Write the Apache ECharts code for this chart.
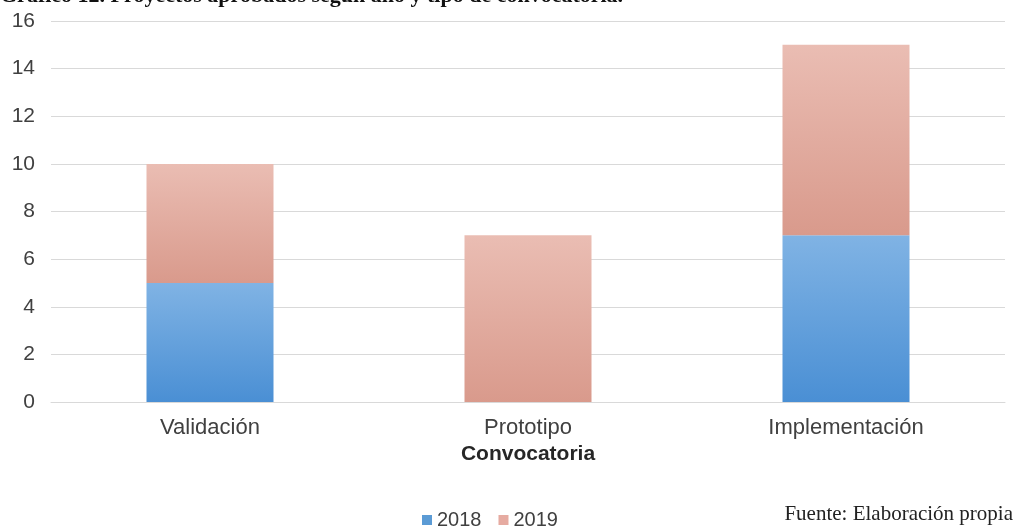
<!DOCTYPE html>
<html>
<head>
<meta charset="utf-8">
<script src="https://cdn.jsdelivr.net/npm/echarts@6/dist/echarts.min.js"></script>
<style>
html,body{margin:0;padding:0;background:#fff;}
#c{width:1014px;height:529px;}
</style>
</head>
<body>
<div id="c"></div>
<script>
var categories = ['Validación', 'Prototipo', 'Implementación'];
var values2018 = [5, 0, 7];
var values2019 = [5, 7, 8];
var yTicks = [0, 2, 4, 6, 8, 10, 12, 14, 16];

var chart = echarts.init(document.getElementById('c'), null, {renderer: 'canvas'});
var blue = new echarts.graphic.LinearGradient(0, 0, 0, 1, [
  {offset: 0, color: '#80b3e4'}, {offset: 1, color: '#4a8fd4'}]);
var pink = new echarts.graphic.LinearGradient(0, 0, 0, 1, [
  {offset: 0, color: '#eabdb3'}, {offset: 1, color: '#d99a8c'}]);
chart.setOption({
  animation: false,
  backgroundColor: '#fff',
  grid: {left: 51, right: 9, top: 21, bottom: 127, containLabel: false},
  xAxis: {
    type: 'category',
    data: categories,
    name: 'Convocatoria',
    nameLocation: 'middle',
    nameGap: 41,
    nameTextStyle: {fontFamily: 'Liberation Sans', fontSize: 21, fontWeight: 'bold', color: '#262626'},
    axisLine: {lineStyle: {color: '#d9d9d9', width: 1}},
    axisTick: {show: false},
    axisLabel: {fontFamily: 'Liberation Sans', fontSize: 22, color: '#404040', margin: 15}
  },
  yAxis: {
    type: 'value',
    min: yTicks[0],
    max: yTicks[yTicks.length - 1],
    interval: 2,
    axisLine: {show: false},
    axisTick: {show: false},
    splitLine: {lineStyle: {color: '#d9d9d9', width: 1}},
    axisLabel: {fontFamily: 'Liberation Sans', fontSize: 21, color: '#404040', margin: 16}
  },
  legend: {
    top: 505,
    left: 417,
    itemWidth: 10,
    itemHeight: 10,
    itemGap: 17,
    icon: 'rect',
    textStyle: {fontFamily: 'Liberation Sans', fontSize: 20, color: '#404040'},
    data: [{name: '2018', itemStyle: {color: '#5b9bd5'}}, {name: '2019', itemStyle: {color: '#e6aba1'}}]
  },
  series: [
    {name: '2018', type: 'bar', stack: 's', data: values2018, barWidth: 127, itemStyle: {color: blue}},
    {name: '2019', type: 'bar', stack: 's', data: values2019, barWidth: 127, itemStyle: {color: pink}}
  ],
  graphic: [
    {type: 'text', left: 0, top: -15, style: {text: 'Gráfico 12. Proyectos aprobados según año y tipo de convocatoria.', font: 'bold 22px "Liberation Serif"', fill: '#111'}},
    {type: 'text', right: 1, top: 504, style: {text: 'Fuente: Elaboración propia', font: '21px "Liberation Serif"', fill: '#222'}}
  ]
});
</script>
</body>
</html>
